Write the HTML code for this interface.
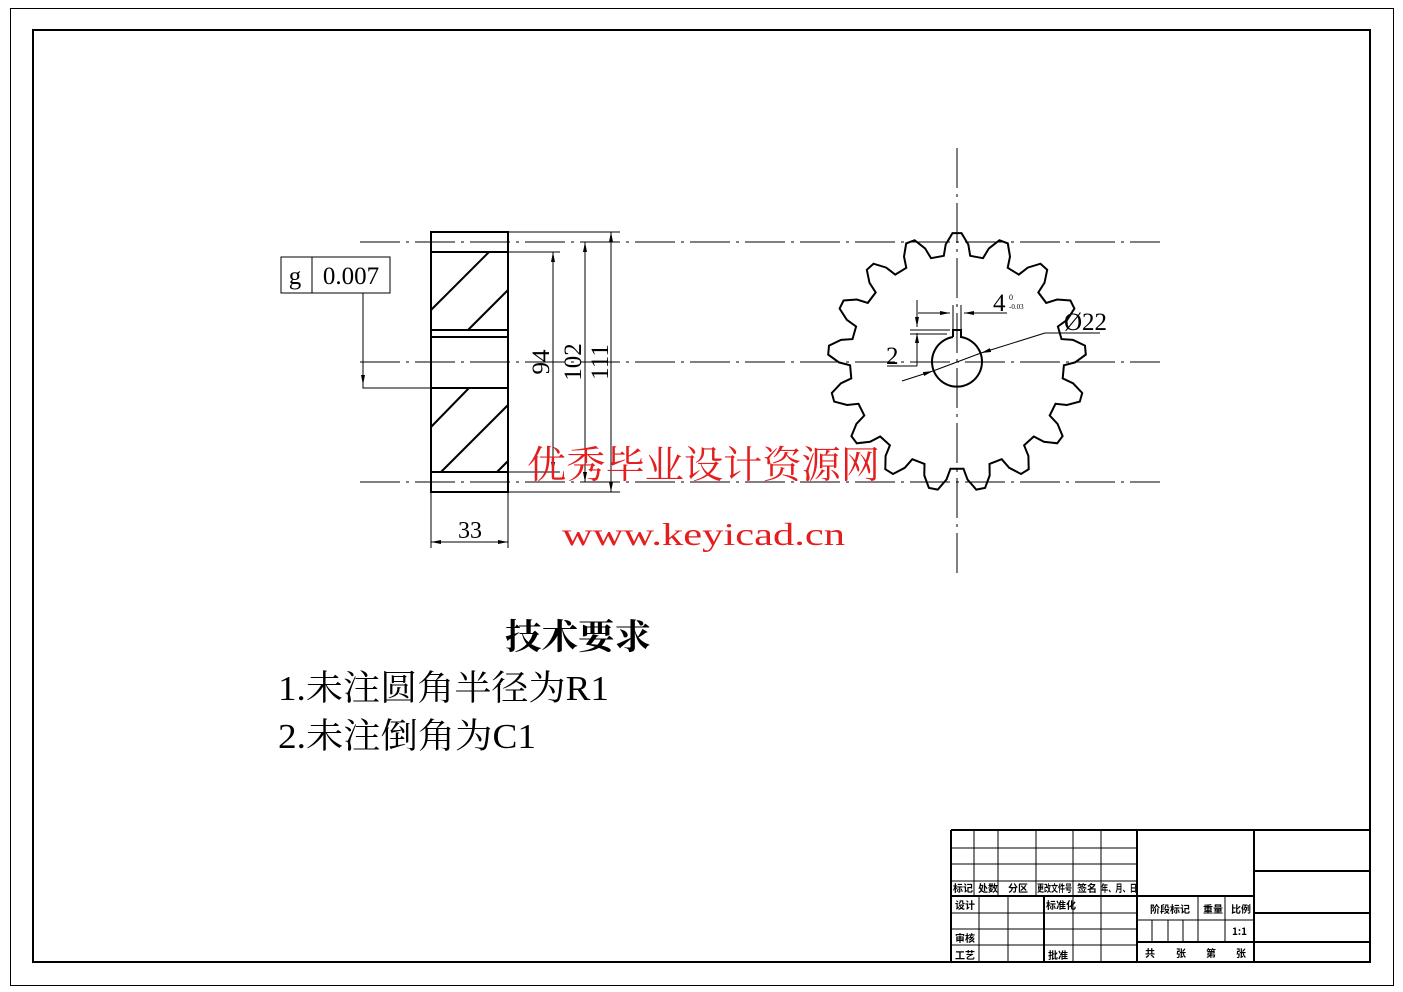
<!DOCTYPE html>
<html><head><meta charset="utf-8"><style>
html,body{margin:0;padding:0;background:#fff;}
svg{display:block;}
text{font-family:"Liberation Serif","Noto Serif CJK SC","Noto Sans CJK SC",serif;fill:#000;}
.tb{font-family:"Noto Sans CJK SC","WenQuanYi Zen Hei",sans-serif;font-size:10px;font-weight:bold;}
</style></head><body>
<svg width="1403" height="992" viewBox="0 0 1403 992" xmlns="http://www.w3.org/2000/svg">
<defs><marker id="a" viewBox="0 0 10 4" refX="10" refY="2" markerWidth="10" markerHeight="4" orient="auto-start-reverse" markerUnits="userSpaceOnUse"><path d="M0,0L10,2L0,4z" fill="#000"/></marker></defs>
<rect x="10.5" y="8.5" width="1383" height="977" fill="none" stroke="#000" stroke-width="1"/>
<rect x="33" y="30" width="1337" height="932" fill="none" stroke="#000" stroke-width="2"/>

<g stroke="#000" stroke-width="1" stroke-dasharray="40,6,3,6" fill="none">
<line x1="360" y1="242" x2="1160" y2="242"/>
<line x1="360" y1="362" x2="1160" y2="362"/>
<line x1="360" y1="482" x2="1160" y2="482"/>
<line x1="957" y1="148" x2="957" y2="575"/>
</g>

<g stroke="#000" fill="none">
<rect x="431" y="232" width="77" height="260" stroke-width="2"/>
<g stroke-width="2">
<line x1="431" y1="252" x2="508" y2="252"/>
<line x1="431" y1="330" x2="508" y2="330"/>
<line x1="431" y1="337" x2="508" y2="337"/>
<line x1="431" y1="388" x2="508" y2="388"/>
<line x1="431" y1="472" x2="508" y2="472"/>
<line x1="431" y1="310" x2="489" y2="252"/>
<line x1="468" y1="330" x2="508" y2="290"/>
<line x1="431" y1="427" x2="469" y2="388"/>
<line x1="441" y1="472" x2="508" y2="405"/>
<line x1="497" y1="472" x2="508" y2="461"/>
</g>
<g stroke-width="1">
<line x1="508" y1="232" x2="620" y2="232"/>
<line x1="508" y1="492" x2="620" y2="492"/>
<line x1="508" y1="252" x2="560" y2="252"/>
<line x1="508" y1="472" x2="560" y2="472"/>
<line x1="553" y1="252" x2="553" y2="472" marker-start="url(#a)" marker-end="url(#a)"/>
<line x1="585" y1="242" x2="585" y2="482" marker-start="url(#a)" marker-end="url(#a)"/>
<line x1="611" y1="232" x2="611" y2="492" marker-start="url(#a)" marker-end="url(#a)"/>
<line x1="431" y1="492" x2="431" y2="548"/>
<line x1="508" y1="492" x2="508" y2="548"/>
<line x1="431" y1="542" x2="508" y2="542" marker-start="url(#a)" marker-end="url(#a)"/>
<rect x="281" y="257" width="109" height="36"/>
<line x1="312" y1="257" x2="312" y2="293"/>
<polyline points="363,293 363,388 431,388"/>
<line x1="363" y1="330" x2="363" y2="385" marker-end="url(#a)"/>
</g>
</g>
<text x="295" y="284" font-size="25" text-anchor="middle">g</text>
<text x="351" y="284" font-size="25" text-anchor="middle">0.007</text>
<text x="470" y="538" font-size="24" text-anchor="middle">33</text>
<text transform="translate(549,362) rotate(-90)" font-size="25" text-anchor="middle">94</text>
<text transform="translate(581,362) rotate(-90)" font-size="25" text-anchor="middle">102</text>
<text transform="translate(608,362) rotate(-90)" font-size="25" text-anchor="middle">111</text>

<path id="spr" d="" fill="none" stroke="#000" stroke-width="2"/>
<path d="M953,337 L953,330 L961,330 L961,337 A25,25 0 1 1 953,337" fill="none" stroke="#000" stroke-width="2"/>
<g stroke="#000" stroke-width="1" fill="none">
<line x1="953" y1="305" x2="953" y2="330"/>
<line x1="961" y1="305" x2="961" y2="330"/>
<line x1="918" y1="313" x2="950" y2="313" marker-end="url(#a)"/>
<line x1="1007" y1="313" x2="964" y2="313" marker-end="url(#a)"/>
<line x1="917" y1="300" x2="917" y2="327" marker-end="url(#a)"/>
<line x1="917" y1="366" x2="917" y2="333" marker-end="url(#a)"/>
<line x1="910" y1="330" x2="950" y2="330"/>
<line x1="910" y1="334" x2="947" y2="334"/>
<polyline points="887,366 917,366"/>
<line x1="1100" y1="333" x2="1045" y2="333"/>
<line x1="1045" y1="333" x2="981" y2="353" marker-end="url(#a)"/>
<line x1="902" y1="381" x2="933" y2="371" marker-end="url(#a)"/>
<line x1="933" y1="371" x2="981" y2="353"/>
</g>
<text x="993" y="311" font-size="25">4</text>
<text x="1009" y="300" font-size="8">0</text>
<text x="1009" y="309" font-size="7">-0.03</text>
<text x="1064" y="330" font-size="25">Ø22</text>
<text x="886" y="364" font-size="25">2</text>

<text x="527" y="478" font-size="38" style="fill:#e41e1e" textLength="353" lengthAdjust="spacingAndGlyphs" font-family="'Noto Serif CJK SC','Noto Sans CJK SC',serif">优秀毕业设计资源网</text>
<text x="562" y="545" font-size="32" style="fill:#e41e1e" textLength="283" lengthAdjust="spacingAndGlyphs" font-family="'Liberation Mono',monospace">www.keyicad.cn</text>

<text x="505" y="649" font-size="35" textLength="146" lengthAdjust="spacingAndGlyphs" font-family="'Noto Serif CJK SC',serif" font-weight="bold">技术要求</text>
<text x="278" y="700" font-size="35" textLength="331" lengthAdjust="spacingAndGlyphs" font-family="'Liberation Serif','Noto Serif CJK SC',serif">1.未注圆角半径为R1</text>
<text x="278" y="748" font-size="35" textLength="258" lengthAdjust="spacingAndGlyphs" font-family="'Liberation Serif','Noto Serif CJK SC',serif">2.未注倒角为C1</text>

<g stroke="#000" fill="none">
<g stroke-width="2">
<line x1="951" y1="830" x2="1370" y2="830"/>
<line x1="951" y1="830" x2="951" y2="962"/>
<line x1="1137" y1="830" x2="1137" y2="962"/>
<line x1="1254" y1="830" x2="1254" y2="962"/>
<line x1="951" y1="896" x2="1137" y2="896"/>
<line x1="1044" y1="896" x2="1044" y2="962"/>
<line x1="1137" y1="896" x2="1254" y2="896"/>
<line x1="1137" y1="942" x2="1254" y2="942"/>
<line x1="1254" y1="871" x2="1370" y2="871"/>
<line x1="1254" y1="913" x2="1370" y2="913"/>
<line x1="1254" y1="942" x2="1370" y2="942"/>
</g>
<g stroke-width="1">
<line x1="951" y1="848" x2="1137" y2="848"/>
<line x1="951" y1="864" x2="1137" y2="864"/>
<line x1="951" y1="881" x2="1137" y2="881"/>
<line x1="974" y1="830" x2="974" y2="896"/>
<line x1="998" y1="830" x2="998" y2="896"/>
<line x1="1036" y1="830" x2="1036" y2="896"/>
<line x1="1073" y1="830" x2="1073" y2="962"/>
<line x1="1101" y1="830" x2="1101" y2="962"/>
<line x1="979" y1="896" x2="979" y2="962"/>
<line x1="1008" y1="896" x2="1008" y2="962"/>
<line x1="951" y1="913" x2="1137" y2="913"/>
<line x1="951" y1="929" x2="1137" y2="929"/>
<line x1="951" y1="945" x2="1137" y2="945"/>
<line x1="1137" y1="920" x2="1254" y2="920"/>
<line x1="1198" y1="896" x2="1198" y2="942"/>
<line x1="1225" y1="896" x2="1225" y2="942"/>
<line x1="1152" y1="920" x2="1152" y2="942"/>
<line x1="1168" y1="920" x2="1168" y2="942"/>
<line x1="1183" y1="920" x2="1183" y2="942"/>
</g>
</g>
<g>
<text class="tb" x="953" y="892">标记</text>
<text class="tb" x="978" y="892">处数</text>
<text class="tb" x="1008" y="892">分区</text>
<text class="tb" x="1037" y="892" textLength="35" lengthAdjust="spacingAndGlyphs">更改文件号</text>
<text class="tb" x="1077" y="892">签名</text>
<text class="tb" x="1101" y="892" textLength="36" lengthAdjust="spacingAndGlyphs">年、月、日</text>
<text class="tb" x="955" y="909">设计</text>
<text class="tb" x="1046" y="909">标准化</text>
<text class="tb" x="955" y="942">审核</text>
<text class="tb" x="955" y="959">工艺</text>
<text class="tb" x="1048" y="959">批准</text>
<text class="tb" x="1150" y="913">阶段标记</text>
<text class="tb" x="1203" y="913">重量</text>
<text class="tb" x="1231" y="913">比例</text>
<text class="tb" x="1232" y="935">1:1</text>
<text class="tb" x="1145" y="957">共</text>
<text class="tb" x="1176" y="957">张</text>
<text class="tb" x="1206" y="957">第</text>
<text class="tb" x="1236" y="957">张</text>
</g>
</svg>
<script>
(function(){
var cx=957,cy=362,N=17,Rt=129,Rr=107,Rm=118,d="";
function P(r,a){return (cx+r*Math.sin(a)).toFixed(1)+","+(cy-r*Math.cos(a)).toFixed(1);}
var p=2*Math.PI/N,deg=Math.PI/180;
for(var i=0;i<N;i++){
 var c=i*p;
 var pts=[[Rr,c-p/2+3.5*deg],[Rm,c-5.5*deg],[Rt,c-2*deg],[Rt,c+2*deg],[Rm,c+5.5*deg],[Rr,c+p/2-3.5*deg]];
 for(var j=0;j<pts.length;j++){d+=(d?"L":"M")+P(pts[j][0],pts[j][1]);}
}
d+="Z";
document.getElementById("spr").setAttribute("d",d);
})();
</script>
</body></html>
